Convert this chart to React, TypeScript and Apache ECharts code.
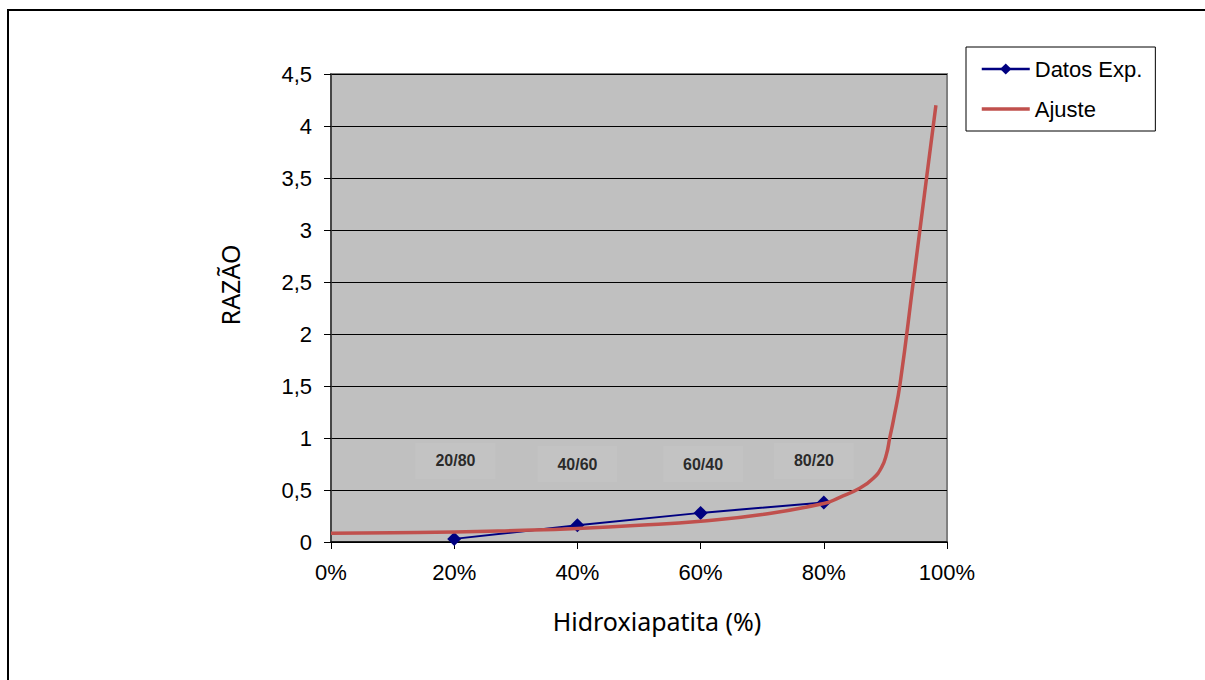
import React, { useEffect, useRef } from "react";
import * as echarts from "echarts";

// Experimental data (Hidroxiapatita %, razão)
const expX = [20, 40, 60, 80];
const expY = [0.03, 0.16, 0.28, 0.38];

// Fitted curve points
const fitX = [0, 10, 20, 30, 40, 50, 60, 70, 80, 82.6, 85.9, 88, 89.4, 90.2, 90.7, 91.3, 92.4, 94.5, 96.7, 98.2];
const fitY = [0.085, 0.09, 0.095, 0.11, 0.13, 0.16, 0.2, 0.265, 0.37, 0.43, 0.52, 0.61, 0.72, 0.85, 1.0, 1.17, 1.53, 2.49, 3.51, 4.2];

// Composition annotations
const annoLabels = ["20/80", "40/60", "60/40", "80/20"];
const annoX = [20.2, 40, 60.4, 78.4];
const annoY = [0.78, 0.75, 0.75, 0.78];

const xTicks = [0, 20, 40, 60, 80, 100];
const yTicks = [0, 0.5, 1, 1.5, 2, 2.5, 3, 3.5, 4, 4.5];

export default function App() {
  const ref = useRef<HTMLDivElement>(null);
  useEffect(() => {
    if (!ref.current) return;
    const chart = echarts.init(ref.current, null, { renderer: "svg" });
    const tickFont = "'Liberation Sans', Arial, sans-serif";
    const titleFont = "'Noto Sans', 'Open Sans', sans-serif";
    chart.setOption({
      animation: false,
      backgroundColor: "#ffffff",
      graphic: [
        {
          type: "rect",
          z: -10,
          silent: true,
          shape: { x: 8, y: 10, width: 1400, height: 900 },
          style: { fill: "none", stroke: "#000", lineWidth: 2 },
        },
      ],
      grid: {
        left: 331,
        right: 1205 - 947,
        top: 74,
        bottom: 680 - 542,
        show: true,
        backgroundColor: "#c0c0c0",
        borderColor: "#808080",
        borderWidth: 2,
      },
      legend: {
        orient: "vertical",
        left: 966,
        top: 47,
        padding: [11, 13, 11, 14],
        itemGap: 18,
        itemWidth: 48,
        itemHeight: 14,
        borderColor: "#000",
        borderWidth: 1,
        backgroundColor: "#fff",
        textStyle: { fontFamily: tickFont, fontSize: 22, color: "#000" },
        data: [
          { name: "Datos Exp.", lineStyle: { width: 2.5 } },
          { name: "Ajuste", itemStyle: { opacity: 0 }, lineStyle: { width: 3.5 } },
        ],
      },
      xAxis: {
        type: "value",
        min: xTicks[0],
        max: xTicks[xTicks.length - 1],
        interval: 20,
        name: "Hidroxiapatita (%)",
        nameLocation: "middle",
        nameGap: 66,
        nameTextStyle: {
          fontFamily: titleFont,
          fontSize: 25,
          color: "#000",
          padding: [0, 0, 0, 36],
        },
        axisLine: { show: true, onZero: false, lineStyle: { color: "#000", width: 1.5 } },
        axisTick: { show: true, length: 7, lineStyle: { color: "#000" } },
        axisLabel: {
          margin: 19,
          fontFamily: tickFont,
          fontSize: 22,
          color: "#000",
          formatter: (v: number) => `${v}%`,
        },
        splitLine: { show: false },
      },
      yAxis: {
        type: "value",
        min: yTicks[0],
        max: yTicks[yTicks.length - 1],
        interval: 0.5,
        name: "RAZÃO",
        nameLocation: "middle",
        nameGap: 89,
        nameRotate: 90,
        nameTextStyle: {
          fontFamily: titleFont,
          fontSize: 25,
          color: "#000",
          padding: [0, 0, 0, 46],
        },
        axisLine: { show: true, lineStyle: { color: "#333", width: 1.5 } },
        axisTick: { show: true, length: 7, lineStyle: { color: "#000" } },
        axisLabel: {
          margin: 19,
          fontFamily: tickFont,
          fontSize: 22,
          color: "#000",
          formatter: (v: number) => String(v).replace(".", ","),
        },
        splitLine: { show: true, lineStyle: { color: "#000", width: 1 } },
      },
      series: [
        {
          name: "Datos Exp.",
          type: "line",
          data: expX.map((x, i) => [x, expY[i]]),
          symbol: "diamond",
          symbolSize: 14,
          lineStyle: { color: "#000080", width: 2 },
          itemStyle: { color: "#000080" },
          z: 3,
        },
        {
          name: "Ajuste",
          type: "line",
          data: fitX.map((x, i) => [x, fitY[i]]),
          showSymbol: false,
          smooth: true,
          lineStyle: { color: "#c0504d", width: 3.5 },
          itemStyle: { color: "#c0504d" },
          z: 4,
        },
        {
          name: "anno",
          type: "scatter",
          data: annoX.map((x, i) => [x, annoY[i], annoLabels[i]]),
          symbolSize: 0,
          silent: true,
          z: 1,
          label: {
            show: true,
            position: "inside",
            formatter: (p: any) => p.data[2],
            fontFamily: tickFont,
            fontWeight: "bold",
            fontSize: 16,
            color: "#000",
            backgroundColor: "#c3c3c3",
            padding: [10, 20],
          },
        },
      ],
    });
    return () => chart.dispose();
  }, []);
  return (
    <div
      ref={ref}
      style={{ position: "fixed", left: 0, top: 0, width: 1205, height: 680 }}
    />
  );
}
